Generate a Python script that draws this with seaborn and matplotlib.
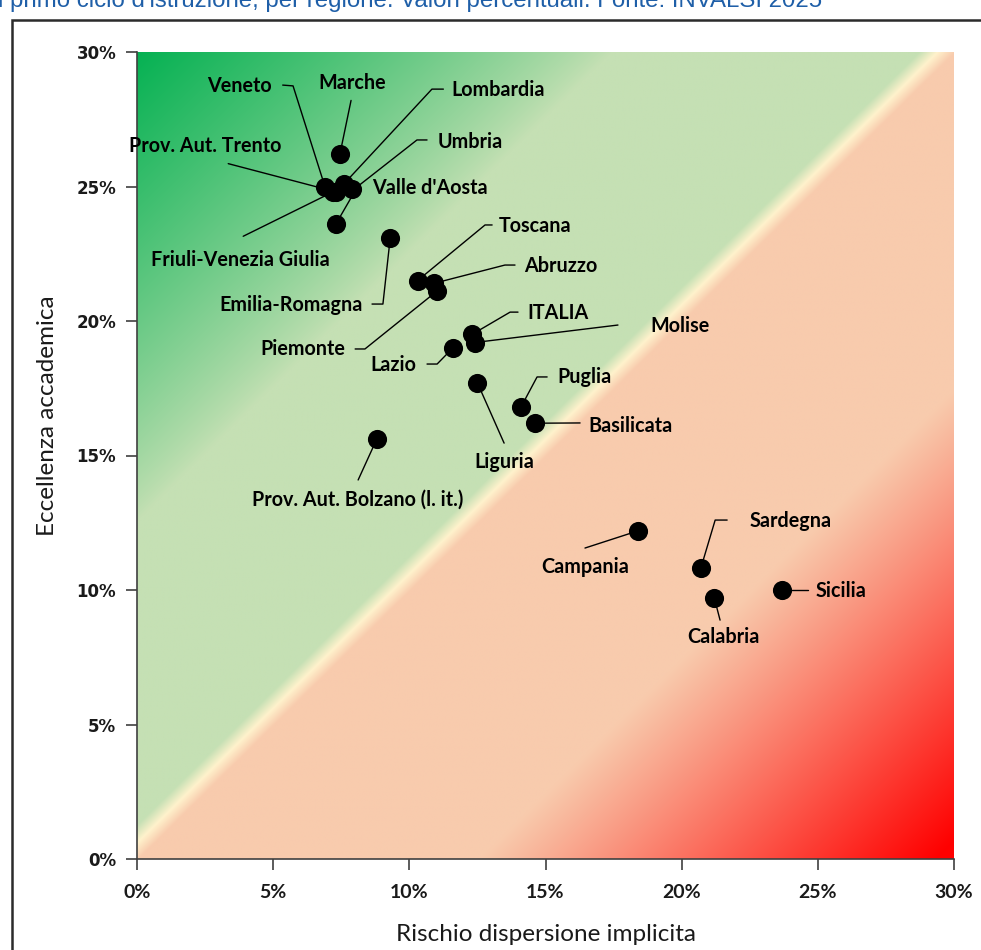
import numpy as np
import pandas as pd
import matplotlib.pyplot as plt
import seaborn as sns
from matplotlib.colors import to_rgb
from matplotlib.patches import Rectangle
from matplotlib.ticker import FixedLocator, FuncFormatter

# data (percent values)
regions = ["Veneto", "Prov. Aut. Trento", "Friuli-Venezia Giulia", "Lombardia",
           "Umbria", "Valle d'Aosta", "Marche", "Emilia-Romagna", "Toscana",
           "Abruzzo", "Piemonte", "ITALIA", "Molise", "Lazio", "Liguria",
           "Puglia", "Basilicata", "Prov. Aut. Bolzano (l. it.)", "Campania",
           "Sardegna", "Calabria", "Sicilia"]
rischio = [6.9, 7.3, 7.2, 7.6, 7.3, 7.9, 7.45, 9.3, 10.3, 10.9, 11.0, 12.3,
           12.4, 11.6, 12.5, 14.1, 14.6, 8.8, 18.4, 20.7, 21.2, 23.7]
eccellenza = [25.0, 24.8, 24.8, 25.1, 23.6, 24.9, 26.2, 23.1, 21.5, 21.4,
              21.1, 19.5, 19.2, 19.0, 17.7, 16.8, 16.2, 15.6, 12.2, 10.8,
              9.7, 10.0]
ticks = [0, 5, 10, 15, 20, 25, 30]

title_text = ("l primo ciclo d'istruzione, per regione. Valori percentuali. "
              "Fonte: INVALSI 2025")

# label layout: text anchor (x, y, ha) and leader waypoints (label side first)
label_layout = {
    "Veneto": (4.95, 28.75, "right", [(5.35, 28.77), (5.73, 28.74)]),
    "Prov. Aut. Trento": (5.3, 26.5, "right", [(3.35, 25.85)]),
    "Friuli-Venezia Giulia": (3.8, 22.25, "center", [(3.9, 23.15)]),
    "Lombardia": (11.55, 28.6, "left", [(11.25, 28.62), (10.83, 28.62)]),
    "Umbria": (11.05, 26.65, "left", [(10.65, 26.73), (10.28, 26.73), (8.1, 25.0)]),
    "Valle d'Aosta": (8.65, 24.95, "left", []),
    "Marche": (7.9, 28.85, "center", [(7.86, 28.2)]),
    "Emilia-Romagna": (8.3, 20.6, "right", [(8.63, 20.63), (9.03, 20.63)]),
    "Toscana": (13.28, 23.55, "left", [(13.04, 23.57), (12.78, 23.57)]),
    "Abruzzo": (14.22, 22.05, "left", [(13.88, 22.08), (13.51, 22.08)]),
    "Piemonte": (7.65, 18.95, "right", [(8.01, 18.96), (8.37, 18.96)]),
    "ITALIA": (14.33, 20.3, "left", [(13.99, 20.33), (13.7, 20.33)]),
    "Molise": (18.85, 19.82, "left", [(17.66, 19.85)]),
    "Lazio": (10.25, 18.37, "right", [(10.65, 18.4), (11.02, 18.4)]),
    "Liguria": (13.5, 14.75, "center", [(13.48, 15.46)]),
    "Puglia": (15.42, 17.9, "left", [(15.06, 17.92), (14.69, 17.92)]),
    "Basilicata": (16.56, 16.1, "left", [(16.27, 16.21)]),
    "Prov. Aut. Bolzano (l. it.)": (8.12, 13.35, "center", [(8.12, 14.09)]),
    "Campania": (16.45, 10.85, "center", [(16.45, 11.56)]),
    "Sardegna": (22.51, 12.58, "left", [(21.67, 12.6), (21.23, 12.6)]),
    "Calabria": (21.52, 8.25, "center", [(21.41, 8.88)]),
    "Sicilia": (24.9, 9.98, "left", [(24.64, 10.0)]),
}

df = pd.DataFrame({"region": regions, "rischio": rischio, "eccellenza": eccellenza})

sns.set_theme(style="white")
plt.rcParams["font.family"] = ["Lato", "DejaVu Sans"]

fig = plt.figure(figsize=(9.81, 9.5), dpi=100)
ax = fig.add_axes([137 / 981, 91 / 950, 817 / 981, 807 / 950])

# diagonal two-colour gradient background
n = 700
grid = np.linspace(0, 30, n)
X, Y = np.meshgrid(grid, grid)
d = (Y - X - 0.6) / 30
cream = np.array(to_rgb("#FFF2CC"))
g_pale, g_dark = np.array(to_rgb("#C5E0B4")), np.array(to_rgb("#00B050"))
r_pale, r_dark = np.array(to_rgb("#F8CBAD")), np.array(to_rgb("#FF0000"))
a = np.abs(d)[..., None]
tg = np.clip((a - 0.40) / 0.60, 0, 1) ** 0.85
tr = np.clip((a - 0.44) / 0.56, 0, 1)
green = g_pale + (g_dark - g_pale) * tg
red = r_pale + (r_dark - r_pale) * tr
col = np.where(d[..., None] > 0, green, red)
w = np.clip(a / 0.022, 0, 1)
img = cream + (col - cream) * w
ax.imshow(img, extent=[0, 30, 0, 30], origin="lower", aspect="auto",
          interpolation="bilinear", zorder=0)

# leader lines and labels
for name, xv, yv in zip(regions, rischio, eccellenza):
    lx, ly, ha, path = label_layout[name]
    if path:
        xs = [p[0] for p in path] + [xv]
        ys = [p[1] for p in path] + [yv]
        ax.plot(xs, ys, color="black", lw=1, zorder=2)
    ax.text(lx, ly, name, ha=ha, va="center", fontsize=14.2,
            fontweight="bold", color="black", zorder=5)

sns.scatterplot(data=df, x="rischio", y="eccellenza", color="black", s=190,
                edgecolor="black", linewidth=0, legend=False, zorder=4, ax=ax)

ax.set_xlim(0, 30)
ax.set_ylim(0, 30)
ax.xaxis.set_major_locator(FixedLocator(ticks))
ax.yaxis.set_major_locator(FixedLocator(ticks))
pct = FuncFormatter(lambda v, p: f"{v:.0f}%")
ax.xaxis.set_major_formatter(pct)
ax.yaxis.set_major_formatter(pct)
ax.tick_params(axis="both", which="major", direction="out", length=8,
               width=1.2, color="#404040", bottom=True, left=True)
for lab in ax.get_yticklabels():
    lab.set_fontfamily("DejaVu Sans")
    lab.set_fontweight("bold")
    lab.set_fontsize(12)
    lab.set_color("#1a1a1a")
for lab in ax.get_xticklabels():
    lab.set_fontweight("bold")
    lab.set_fontsize(14)
    lab.set_color("#1a1a1a")
ax.tick_params(axis="x", pad=10)
ax.tick_params(axis="y", pad=7)

for side in ["top", "right"]:
    ax.spines[side].set_visible(False)
for side in ["left", "bottom"]:
    ax.spines[side].set_color("#404040")
    ax.spines[side].set_linewidth(1.2)

ax.set_xlabel("Rischio dispersione implicita", fontsize=17.5, color="#1a1a1a")
ax.set_ylabel("Eccellenza accademica", fontsize=17.5, color="#1a1a1a")
ax.xaxis.set_label_coords(0.5, -0.081)
ax.yaxis.set_label_coords(-0.097, 0.549)

# outer frame and clipped caption
fig.add_artist(Rectangle((12 / 981, -0.05), 1.0, 1 - 20 / 950 + 0.05,
                         transform=fig.transFigure, fill=False,
                         ec="#2b2b2b", lw=1.8))
fig.text(-0.002, 1 - 7 / 950, title_text, ha="left", va="baseline",
         fontsize=17.3, color="#1F5FA8", family=["Liberation Sans", "DejaVu Sans"])

fig.savefig("out.png", dpi=100)
